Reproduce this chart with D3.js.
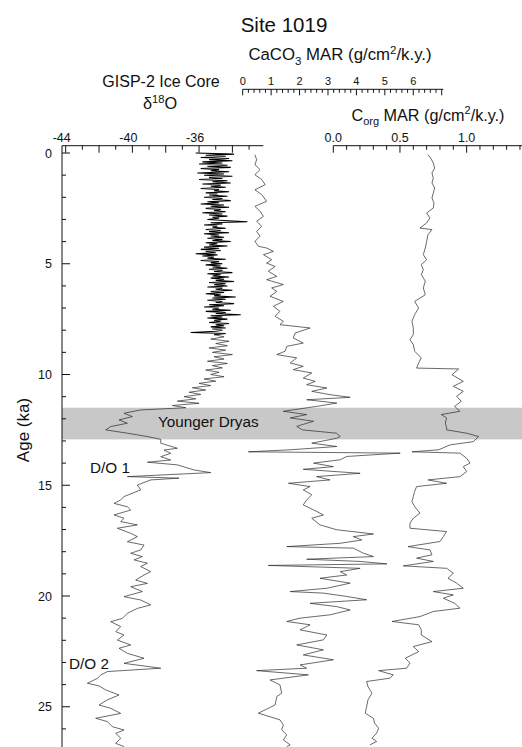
<!DOCTYPE html>
<html><head><meta charset="utf-8">
<script src="https://cdn.jsdelivr.net/npm/d3@7"></script>
<style>
body{margin:0;background:#fff}
svg{display:block}
text{font-family:"Liberation Sans",Arial,Helvetica,sans-serif;fill:#111}
</style>
</head><body>
<svg id="chart" width="522" height="747"></svg>
<script>
// ---------------- DATA ----------------
const o18Age = [0.00,0.05,0.10,0.15,0.20,0.25,0.30,0.35,0.40,0.45,0.50,0.55,0.60,0.65,0.70,0.75,0.80,0.85,0.90,0.95,
1.00,1.05,1.10,1.15,1.20,1.25,1.30,1.35,1.40,1.45,1.50,1.55,1.60,1.65,1.70,1.75,1.80,1.85,1.90,1.95,
2.00,2.05,2.10,2.15,2.20,2.25,2.30,2.35,2.40,2.45,2.50,2.55,2.60,2.65,2.70,2.75,2.80,2.85,2.90,2.95,
3.00,3.05,3.10,3.15,3.20,3.25,3.30,3.35,3.40,3.45,3.50,3.55,3.60,3.65,3.70,3.75,3.80,3.85,3.90,3.95,
4.00,4.05,4.10,4.15,4.20,4.25,4.30,4.35,4.40,4.45,4.50,4.55,4.60,4.65,4.70,4.75,4.80,4.85,4.90,4.95,
5.00,5.05,5.10,5.15,5.20,5.25,5.30,5.35,5.40,5.45,5.50,5.55,5.60,5.65,5.70,5.75,5.80,5.85,5.90,5.95,
6.00,6.05,6.10,6.15,6.20,6.25,6.30,6.35,6.40,6.45,6.50,6.55,6.60,6.65,6.70,6.75,6.80,6.85,6.90,6.95,
7.00,7.05,7.10,7.15,7.20,7.25,7.30,7.35,7.40,7.45,7.50,7.55,7.60,7.65,7.70,7.75,7.80,7.85,7.90,7.95,
8.00,8.05,8.10,8.15,8.20,
8.30,8.40,8.50,8.60,8.70,8.80,8.90,9.00,9.10,9.20,9.30,9.40,9.50,9.60,9.70,9.80,9.90,10.00,10.10,10.20,
10.30,10.40,10.50,10.60,10.70,10.80,10.90,11.00,11.10,11.20,11.30,11.40,11.50,
11.60,11.75,11.90,12.05,12.20,12.35,12.50,12.65,12.80,12.93,13.10,13.33,13.41,13.56,13.71,13.86,13.96,14.08,14.31,14.43,
14.61,14.68,14.76,14.99,15.21,15.51,15.66,15.82,15.97,16.12,16.34,16.49,16.64,16.79,16.94,17.17,17.32,17.55,17.70,17.92,
18.07,18.22,18.37,18.52,18.67,18.90,19.05,19.28,19.43,19.58,19.80,20.03,20.18,20.40,20.56,20.78,21.01,21.16,21.38,21.61,
21.76,21.99,22.21,22.36,22.59,22.81,23.04,23.26,23.41,23.57,23.72,23.94,24.06,24.24,24.47,24.69,24.92,25.07,25.30,25.52,
25.67,25.90,26.05,26.20,26.42,26.65,26.80];
const o18Val = [-36.2,-33.9,-35.6,-34.4,-35.9,-34.2,-35.4,-34.0,-35.8,-34.6,-36.0,-34.3,-35.5,-34.1,-35.9,-34.8,-35.3,-34.2,-36.1,-34.5,
-35.7,-34.0,-35.4,-34.6,-36.0,-34.3,-35.2,-34.1,-35.8,-34.7,-35.3,-34.4,-35.9,-34.8,-35.1,-34.2,-35.6,-34.9,-35.4,-34.3,
-35.7,-34.6,-35.2,-34.1,-35.5,-34.8,-35.9,-34.5,-35.3,-34.2,-35.6,-34.7,-35.1,-34.4,-35.8,-34.6,-35.4,-34.3,-35.2,-34.8,
-35.5,-34.5,-33.1,-35.3,-34.6,-35.7,-34.9,-35.2,-34.4,-35.6,-34.7,-35.4,-34.2,-35.7,-34.8,-35.3,-34.5,-35.5,-34.6,-35.2,
-34.1,-35.6,-34.9,-35.4,-34.3,-35.7,-34.8,-35.9,-34.7,-35.6,-35.0,-36.2,-34.9,-35.8,-35.1,-35.5,-34.4,-35.9,-34.8,-35.3,
-34.6,-35.6,-34.7,-35.2,-34.3,-35.4,-34.6,-35.1,-34.0,-35.5,-34.7,-35.2,-34.2,-35.3,-34.5,-35.0,-33.9,-35.4,-34.4,-35.1,
-34.3,-35.5,-34.6,-35.0,-34.0,-35.3,-34.5,-35.6,-34.7,-35.1,-33.8,-35.2,-34.4,-35.5,-34.6,-35.0,-33.9,-35.4,-34.5,-35.7,
-34.8,-35.2,-34.1,-35.6,-34.4,-35.0,-33.5,-35.3,-34.6,-35.5,-34.3,-35.1,-34.7,-35.4,-34.2,-35.0,-34.5,-35.3,-34.4,-35.2,
-34.6,-35.0,-36.5,-34.4,-35.1,
-34.5,-35.3,-34.2,-35.0,-34.3,-35.4,-34.4,-35.2,-34.0,-35.1,-34.5,-35.5,-34.3,-35.2,-34.6,-35.6,-34.8,-35.3,-34.5,-35.7,
-35.0,-36.0,-35.3,-36.4,-35.6,-36.6,-35.9,-36.9,-36.2,-37.3,-36.0,-37.6,-36.8,
-39.5,-40.5,-40.0,-40.8,-40.3,-41.3,-41.6,-40.3,-39.1,-38.3,-38.3,-37.3,-38.1,-37.7,-38.3,-37.7,-39.1,-37.3,-36.3,-35.3,
-40.3,-37.2,-38.9,-39.7,-39.5,-40.5,-40.7,-41.1,-40.3,-40.1,-41.1,-40.5,-40.7,-39.7,-40.9,-40.1,-39.7,-40.3,-39.3,-39.5,
-40.1,-39.4,-39.9,-39.1,-39.5,-38.9,-39.3,-39.8,-39.1,-40.1,-39.4,-40.5,-39.5,-38.9,-39.7,-40.3,-40.6,-41.3,-40.7,-41.0,
-40.5,-40.9,-40.1,-40.8,-40.3,-39.3,-40.5,-38.3,-41.5,-41.9,-42.1,-42.7,-42.0,-41.6,-40.8,-41.5,-42.0,-41.3,-40.7,-42.2,
-41.5,-41.2,-40.5,-41.0,-40.7,-41.0,-40.5];

const cacoAge = [0.08,0.30,0.53,0.75,0.98,1.20,1.43,1.66,1.88,2.18,2.41,2.63,2.86,3.08,3.31,3.54,3.76,3.99,4.21,4.29,
4.44,4.59,4.82,4.97,5.12,5.34,5.57,5.72,5.94,6.09,6.25,6.47,6.70,6.92,7.15,7.37,7.60,7.75,7.90,8.13,
8.35,8.58,8.73,8.95,9.10,9.25,9.48,9.63,9.78,9.93,10.16,10.31,10.46,10.61,10.76,10.91,11.03,11.14,11.29,11.44,
11.66,11.81,11.96,12.11,12.34,12.50,12.65,12.80,12.88,13.10,13.25,13.40,13.49,13.55,13.70,13.85,14.00,14.16,14.28,14.46,
14.61,14.76,14.91,15.06,15.21,15.43,15.66,15.89,16.11,16.34,16.49,16.79,17.01,17.20,17.32,17.47,17.62,17.77,17.84,18.07,
18.22,18.34,18.44,18.55,18.62,18.75,18.90,19.05,19.20,19.42,19.65,19.80,19.87,20.02,20.17,20.33,20.48,20.63,20.85,21.00,
21.15,21.30,21.53,21.76,21.98,22.21,22.43,22.66,22.88,23.11,23.26,23.37,23.56,23.79,24.01,24.39,24.54,24.92,25.29,25.59,
25.82,26.04,26.27,26.50,26.72,26.80];
const cacoVal = [0.43,0.49,0.43,0.61,0.43,0.67,0.79,0.43,0.67,0.84,0.43,0.61,0.73,0.49,0.67,0.49,0.61,0.43,0.55,0.84,
1.08,0.73,1.02,0.84,1.14,0.90,1.20,0.84,1.43,1.02,1.20,0.96,1.43,1.08,1.31,1.14,1.43,1.31,2.37,1.84,
1.78,2.13,1.55,1.49,1.20,1.90,1.67,2.13,1.78,2.43,2.13,2.55,2.25,2.96,2.43,3.07,3.78,2.25,3.31,2.60,
1.43,2.25,1.67,2.49,1.90,2.10,3.30,3.43,3.31,2.43,3.31,1.67,0.20,5.54,3.66,3.43,2.49,3.19,2.13,4.13,
2.60,3.07,1.61,2.37,2.13,2.43,2.25,2.13,2.49,2.84,2.43,2.72,3.31,4.60,3.89,4.19,3.43,1.55,3.89,4.25,
4.60,2.25,4.13,5.07,0.90,4.13,3.43,3.66,2.72,3.78,2.96,1.67,2.84,3.66,4.36,2.37,3.31,3.78,3.07,2.02,
1.55,2.37,2.02,2.96,2.84,1.90,2.84,2.13,3.19,2.02,2.25,0.49,2.31,0.96,1.31,1.37,1.20,1.14,0.55,1.31,
1.43,1.37,1.55,1.43,1.67,1.55];

const corgAge = [0.08,0.23,0.45,0.68,0.90,1.13,1.35,1.58,1.81,2.03,2.26,2.48,2.71,2.93,3.16,3.39,3.46,3.69,3.99,4.29,
4.59,4.82,5.04,5.27,5.49,5.79,6.09,6.40,6.55,6.70,7.00,7.30,7.60,7.90,8.20,8.43,8.65,8.95,9.25,9.48,
9.71,9.75,10.01,10.31,10.53,10.76,10.98,11.21,11.44,11.66,11.81,11.96,12.19,12.41,12.50,12.65,12.80,13.03,13.18,13.40,
13.49,13.55,13.78,14.00,14.16,14.38,14.61,14.76,14.91,15.06,15.28,15.51,15.74,15.96,16.26,16.49,16.71,16.94,17.09,17.32,
17.54,17.77,17.92,18.14,18.29,18.44,18.64,18.75,18.97,19.20,19.42,19.65,19.80,19.95,20.10,20.33,20.55,20.70,20.93,21.15,
21.30,21.53,21.76,22.06,22.28,22.51,22.81,23.03,23.26,23.37,23.56,23.71,23.86,24.09,24.39,24.69,24.99,25.29,25.52,25.74,
25.97,26.19,26.42,26.57,26.72];
const corgVal = [0.71,0.73,0.75,0.76,0.74,0.75,0.74,0.76,0.75,0.74,0.755,0.75,0.70,0.725,0.70,0.65,0.74,0.71,0.70,0.69,
0.675,0.70,0.66,0.675,0.66,0.69,0.675,0.69,0.65,0.61,0.64,0.61,0.59,0.60,0.60,0.575,0.60,0.61,0.66,0.64,
0.625,0.94,0.89,0.975,0.90,0.975,0.925,0.96,0.91,0.95,0.81,0.85,0.84,0.85,0.85,1.00,1.09,1.05,0.875,0.79,
0.59,0.95,1.00,1.025,0.975,1.00,0.95,0.71,0.85,0.625,0.61,0.60,0.59,0.61,0.65,0.60,0.575,0.575,0.85,0.825,
0.80,0.56,0.725,0.74,0.625,0.75,0.525,0.85,0.90,0.86,0.925,0.975,0.75,0.90,0.825,0.91,0.95,0.75,0.65,0.44,
0.64,0.66,0.66,0.74,0.60,0.64,0.54,0.575,0.55,0.34,0.45,0.425,0.25,0.26,0.29,0.26,0.25,0.24,0.30,0.31,
0.34,0.325,0.29,0.325,0.275];

const ageTicks = [0,1,2,3,4,5,6,7,8,9,10,11,12,13,14,15,16,17,18,19,20,21,22,23,24,25,26];
const ageLabels = [0,5,10,15,20,25];
const o18Ticks = [-44,-43,-42,-41,-40,-39,-38,-37,-36,-35,-34,-33];
const o18Major = [-44,-42,-40,-38,-36,-34];
const o18Labels = [-44,-40,-36];
const cacoTicks = [0,0.2,0.4,0.6,0.8,1,1.2,1.4,1.6,1.8,2,2.2,2.4,2.6,2.8,3,3.2,3.4,3.6,3.8,4,4.2,4.4,4.6,4.8,5,5.2,5.4,5.6,5.8,6,6.2,6.4,6.6,6.8,7];
const cacoMajor = [0,1,2,3,4,5,6,7];
const cacoLabels = [0,1,2,3,4,5,6];
const corgTicks = [0,0.1,0.2,0.3,0.4,0.5,0.6,0.7,0.8,0.9,1.0,1.1,1.2,1.3,1.4];
const corgMajor = [0,0.5,1.0];
const corgLabels = ["0.0","0.5","1.0"];
const youngerDryas = [11.5, 12.93];
const holoceneDenseEnd = 8.2;

// ---------------- SCALES ----------------
const svg = d3.select("#chart");
const y = d3.scaleLinear().domain([0,25]).range([153,706.75]);
const xO = d3.scaleLinear().domain([-44,-32]).range([65.7,265.74]);
const xC = d3.scaleLinear().domain([0,7]).range([242.7,441.7]);
const xG = d3.scaleLinear().domain([0,1.5]).range([333.3,533.3]);
const axisY = 145.7, cacoY = 89.3, leftX = 62;

// Younger Dryas band
svg.append("rect").attr("x",leftX).attr("width",522-leftX)
  .attr("y",y(youngerDryas[0])).attr("height",y(youngerDryas[1])-y(youngerDryas[0]))
  .attr("fill","#c8c8c8");

// ---------------- CURVES ----------------
function curve(ages, vals, xs, stroke, width){
  const pts = ages.map((a,i)=>({a, v: vals[i]}));
  svg.append("path").datum(pts)
    .attr("fill","none").attr("stroke",stroke).attr("stroke-width",width)
    .attr("d", d3.line().x(d=>xs(d.v)).y(d=>y(d.a)));
}
// dense Holocene part of GISP-2 drawn darker, rest thin
const iSplit = o18Age.indexOf(holoceneDenseEnd);
curve(o18Age.slice(0,iSplit+1),o18Val.slice(0,iSplit+1),xO,"#000",1.05);
curve(o18Age.slice(iSplit),o18Val.slice(iSplit),xO,"#2a2a2a",0.7);
curve(cacoAge,cacoVal,xC,"#2a2a2a",0.7);
curve(corgAge,corgVal,xG,"#2a2a2a",0.7);

// ---------------- AXES ----------------
const ax = svg.append("g").attr("stroke","#111").attr("stroke-width",1).attr("fill","none");
// left age axis
ax.append("line").attr("x1",leftX).attr("x2",leftX).attr("y1",axisY).attr("y2",747);
ageTicks.forEach(t=>{
  const L = ageLabels.includes(t)?8:4;
  ax.append("line").attr("x1",leftX).attr("x2",leftX+L).attr("y1",y(t)).attr("y2",y(t));
});
svg.selectAll("text.agel").data(ageLabels).join("text").attr("class","agel")
  .attr("x",52).attr("y",d=>y(d)+4.5).attr("text-anchor","end").attr("font-size",12.5).text(d=>d);

// top d18O axis
ax.append("line").attr("x1",leftX).attr("x2",263.4).attr("y1",axisY).attr("y2",axisY);
o18Ticks.forEach(t=>{
  const L = o18Major.includes(t)?7:4;
  ax.append("line").attr("x1",xO(t)).attr("x2",xO(t)).attr("y1",axisY).attr("y2",axisY+L);
});
svg.selectAll("text.o18l").data(o18Labels).join("text").attr("class","o18l")
  .attr("x",d=>xO(d)-4).attr("y",141.5).attr("text-anchor","middle").attr("font-size",12.5).text(d=>d);

// CaCO3 axis
ax.append("line").attr("x1",xC(0)).attr("x2",443.3).attr("y1",cacoY).attr("y2",cacoY);
cacoTicks.forEach(t=>{
  const L = cacoMajor.includes(t)?6:3.5;
  ax.append("line").attr("x1",xC(t)).attr("x2",xC(t)).attr("y1",cacoY).attr("y2",cacoY+L);
});
svg.selectAll("text.cacol").data(cacoLabels).join("text").attr("class","cacol")
  .attr("x",d=>xC(d)).attr("y",85).attr("text-anchor","middle").attr("font-size",11).text(d=>d);

// Corg axis
ax.append("line").attr("x1",xG(0)).attr("x2",522).attr("y1",axisY).attr("y2",axisY);
corgTicks.forEach(t=>{
  const L = corgMajor.includes(t)?7:4;
  ax.append("line").attr("x1",xG(t)).attr("x2",xG(t)).attr("y1",axisY).attr("y2",axisY+L);
});
svg.selectAll("text.corgl").data(corgLabels).join("text").attr("class","corgl")
  .attr("x",d=>xG(+d)).attr("y",141.5).attr("text-anchor","middle").attr("font-size",12.5).text(d=>d);

// ---------------- TEXT ----------------
svg.append("text").attr("x",284).attr("y",31.7).attr("text-anchor","middle").attr("font-size",20.5).text("Site 1019");

const t1 = svg.append("text").attr("x",340).attr("y",60).attr("text-anchor","middle").attr("font-size",16.8);
t1.append("tspan").text("CaCO");
t1.append("tspan").attr("font-size",11.5).attr("dy",4.5).text("3");
t1.append("tspan").attr("dy",-4.5).text(" MAR (g/cm");
t1.append("tspan").attr("font-size",11.5).attr("dy",-6.5).text("2");
t1.append("tspan").attr("dy",6.5).text("/k.y.)");

svg.append("text").attr("x",161).attr("y",87.3).attr("text-anchor","middle").attr("font-size",16).text("GISP-2  Ice Core");
const t2 = svg.append("text").attr("x",160).attr("y",109).attr("text-anchor","middle").attr("font-size",16.3);
t2.append("tspan").text("δ");
t2.append("tspan").attr("font-size",11.2).attr("dy",-6.5).text("18");
t2.append("tspan").attr("dy",6.5).text("O");

const t3 = svg.append("text").attr("x",428).attr("y",120.7).attr("text-anchor","middle").attr("font-size",16.2);
t3.append("tspan").text("C");
t3.append("tspan").attr("font-size",11).attr("dy",4.5).text("org");
t3.append("tspan").attr("dy",-4.5).text(" MAR (g/cm");
t3.append("tspan").attr("font-size",11).attr("dy",-6.5).text("2");
t3.append("tspan").attr("dy",6.5).text("/k.y.)");

svg.append("text").attr("transform","translate(29,430) rotate(-90)").attr("text-anchor","middle").attr("font-size",17).text("Age (ka)");

svg.append("text").attr("x",158).attr("y",427.3).attr("font-size",15.3).text("Younger Dryas");
svg.append("text").attr("x",90).attr("y",472.7).attr("font-size",15.3).text("D/O 1");
svg.append("text").attr("x",69).attr("y",669.3).attr("font-size",15.3).text("D/O 2");
</script>
</body></html>
